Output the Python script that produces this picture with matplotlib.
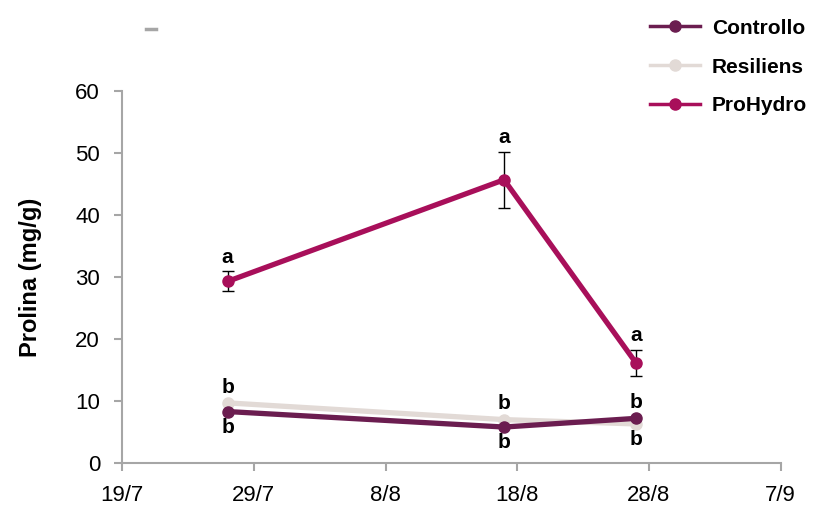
import matplotlib
matplotlib.use("Agg")
import matplotlib.pyplot as plt
from matplotlib.lines import Line2D
import matplotlib.font_manager as fm

# Data
days = [8, 29, 39]  # days after 19/7
tick_days = [0, 10, 20, 30, 40, 50]
tick_labels = ["19/7", "29/7", "8/8", "18/8", "28/8", "7/9"]

controllo = [8.3, 5.8, 7.2]
resiliens = [9.7, 7.0, 6.3]
prohydro = [29.3, 45.7, 16.2]
prohydro_err = [1.6, 4.5, 2.1]

letters_pro = ["a", "a", "a"]
letters_ctrl = ["b", "b", "b"]
letters_res = ["b", "b", "b"]

series_names = ["Controllo", "Resiliens", "ProHydro"]

c_ctrl = "#6b1d50"
c_res = "#e2dad6"
c_pro = "#a80f5a"
grey = "#a6a6a6"

names = {f.name for f in fm.fontManager.ttflist}
narrow = "Liberation Sans Narrow" if "Liberation Sans Narrow" in names else "Liberation Sans"

fig = plt.figure(figsize=(8.26, 5.08), dpi=100)
ax = fig.add_axes([0.148, 0.0886, 0.797, 0.732])

ax.plot(days, resiliens, color=c_res, lw=3.8, marker="o", ms=8, zorder=2)
ax.plot(days, controllo, color=c_ctrl, lw=3.8, marker="o", ms=8, zorder=3)
ax.errorbar(days, prohydro, yerr=prohydro_err, color=c_pro, lw=3.8, marker="o", ms=8,
            ecolor="black", elinewidth=1, capsize=4, capthick=1, zorder=4)

ax.set_xlim(0, 50)
ax.set_ylim(0, 60)
ax.set_xticks(tick_days)
ax.set_xticklabels(tick_labels)
ax.set_yticks(range(0, 61, 10))
for s in ["top", "right"]:
    ax.spines[s].set_visible(False)
for s in ["left", "bottom"]:
    ax.spines[s].set_color(grey)
    ax.spines[s].set_linewidth(1.5)
ax.tick_params(axis="both", colors=grey, width=1.5, length=6, labelcolor="black", labelsize=16)
for lbl in ax.get_xticklabels() + ax.get_yticklabels():
    lbl.set_fontfamily(narrow)
ax.tick_params(axis="x", pad=10)
ax.tick_params(axis="y", pad=10)

ax.set_ylabel("Prolina (mg/g)", fontsize=17, fontweight="bold", fontfamily="Liberation Sans", labelpad=24)

fs = 15
tk = dict(ha="center", fontsize=fs, fontweight="bold", fontfamily="Liberation Sans")
for i, d in enumerate(days):
    ax.text(d, prohydro[i] + prohydro_err[i] + 0.8, letters_pro[i], va="bottom", **tk)
ax.text(days[0], resiliens[0] + 1.0, letters_res[0], va="bottom", **tk)
ax.text(days[0], controllo[0] - 1.0, letters_ctrl[0], va="top", **tk)
ax.text(days[1], resiliens[1] + 1.0, letters_res[1], va="bottom", **tk)
ax.text(days[1], controllo[1] - 1.0, letters_ctrl[1], va="top", **tk)
ax.text(days[2], controllo[2] + 1.0, letters_ctrl[2], va="bottom", **tk)
ax.text(days[2], resiliens[2] - 1.0, letters_res[2], va="top", **tk)

handles = [Line2D([], [], color=c, lw=2.5, marker="o", ms=8) for c in (c_ctrl, c_res, c_pro)]
fig.legend(handles, series_names,
           loc="upper right", bbox_to_anchor=(1.0, 1.0), frameon=False,
           prop={"family": "Liberation Sans", "weight": "bold", "size": 15},
           handlelength=2.4, labelspacing=0.95, handletextpad=0.6)

fig.add_artist(Line2D([0.177, 0.189], [0.943, 0.943], color=grey, lw=2.5, transform=fig.transFigure))

fig.savefig("out.png", dpi=100)
